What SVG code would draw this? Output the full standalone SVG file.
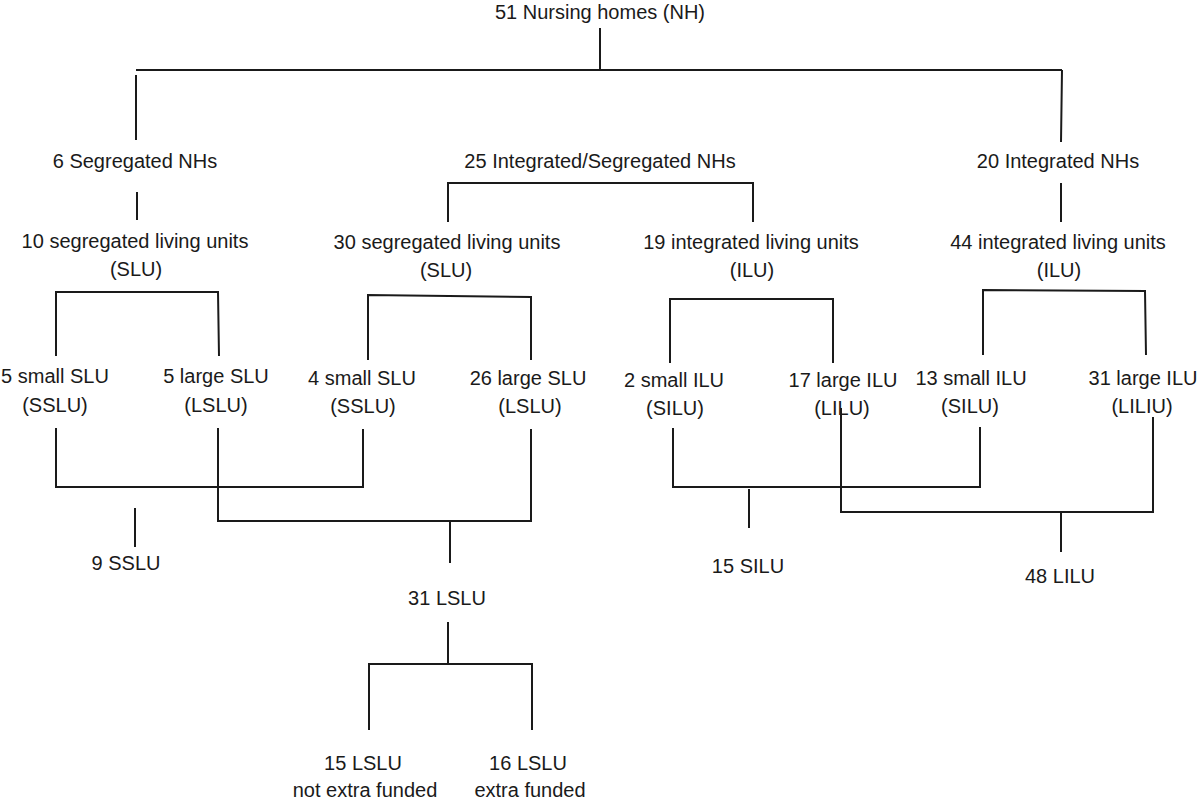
<svg xmlns="http://www.w3.org/2000/svg" width="1200" height="801" viewBox="0 0 1200 801">
<style>
text{font-family:"Liberation Sans",Arial,sans-serif;font-size:20px;fill:#1a1a1a;text-anchor:middle}
.c{fill:none;stroke:#1a1a1a;stroke-width:2}
</style>
<rect width="1200" height="801" fill="#fff"/>
<g id="connectors" class="c">
<path d="M600,28V70M136,70H1062M136,75V140M1062,70L1061,142"/>
<path d="M137,192V220"/>
<path d="M448,222V183H753V222"/>
<path d="M1061,183V222"/>
<path d="M56,356V292H218L219,356"/>
<path d="M368,360V295L531,297V360"/>
<path d="M670,363V299H833V363"/>
<path d="M983,355V290L1145,291L1146,355"/>
<path d="M56,428V487H363V429"/>
<path d="M218,428V521H531V429"/>
<path d="M450,521V563"/>
<path d="M135,508V547"/>
<path d="M448,622V663M369,730V664H532V730"/>
<path d="M673,428V487H980V427"/>
<path d="M749,489V528"/>
<path d="M841,408V512H1153V417"/>
<path d="M1061,512V552"/>
</g>
<g id="root"><text x="600" y="19">51 Nursing homes (NH)</text></g>
<g id="seg"><text x="135" y="168">6 Segregated NHs</text></g>
<g id="intseg"><text x="600" y="168">25 Integrated/Segregated NHs</text></g>
<g id="int"><text x="1058" y="168">20 Integrated NHs</text></g>
<g id="slu10"><text x="135" y="248">10 segregated living units</text><text x="136" y="276">(SLU)</text></g>
<g id="slu30"><text x="447" y="249">30 segregated living units</text><text x="446" y="277">(SLU)</text></g>
<g id="ilu19"><text x="751" y="249">19 integrated living units</text><text x="752" y="277">(ILU)</text></g>
<g id="ilu44"><text x="1058" y="249">44 integrated living units</text><text x="1059" y="277">(ILU)</text></g>
<g id="sslu5"><text x="55" y="383">5 small SLU</text><text x="55" y="412">(SSLU)</text></g>
<g id="lslu5"><text x="216" y="383">5 large SLU</text><text x="216" y="412">(LSLU)</text></g>
<g id="sslu4"><text x="362" y="385">4 small SLU</text><text x="363" y="413">(SSLU)</text></g>
<g id="lslu26"><text x="528" y="385">26 large SLU</text><text x="530" y="413">(LSLU)</text></g>
<g id="silu2"><text x="674" y="387">2 small ILU</text><text x="675" y="415">(SILU)</text></g>
<g id="lilu17"><text x="843" y="387">17 large ILU</text><text x="842" y="415">(LILU)</text></g>
<g id="silu13"><text x="971" y="385">13 small ILU</text><text x="970" y="413">(SILU)</text></g>
<g id="liliu31"><text x="1143" y="385">31 large ILU</text><text x="1142" y="413">(LILIU)</text></g>
<g id="sslu9"><text x="126" y="570">9 SSLU</text></g>
<g id="lslu31"><text x="447" y="605">31 LSLU</text></g>
<g id="silu15"><text x="748" y="573">15 SILU</text></g>
<g id="lilu48"><text x="1060" y="583">48 LILU</text></g>
<g id="lslu15"><text x="363" y="770">15 LSLU</text><text x="365" y="797">not extra funded</text></g>
<g id="lslu16"><text x="528" y="770">16 LSLU</text><text x="530" y="797">extra funded</text></g>
</svg>
